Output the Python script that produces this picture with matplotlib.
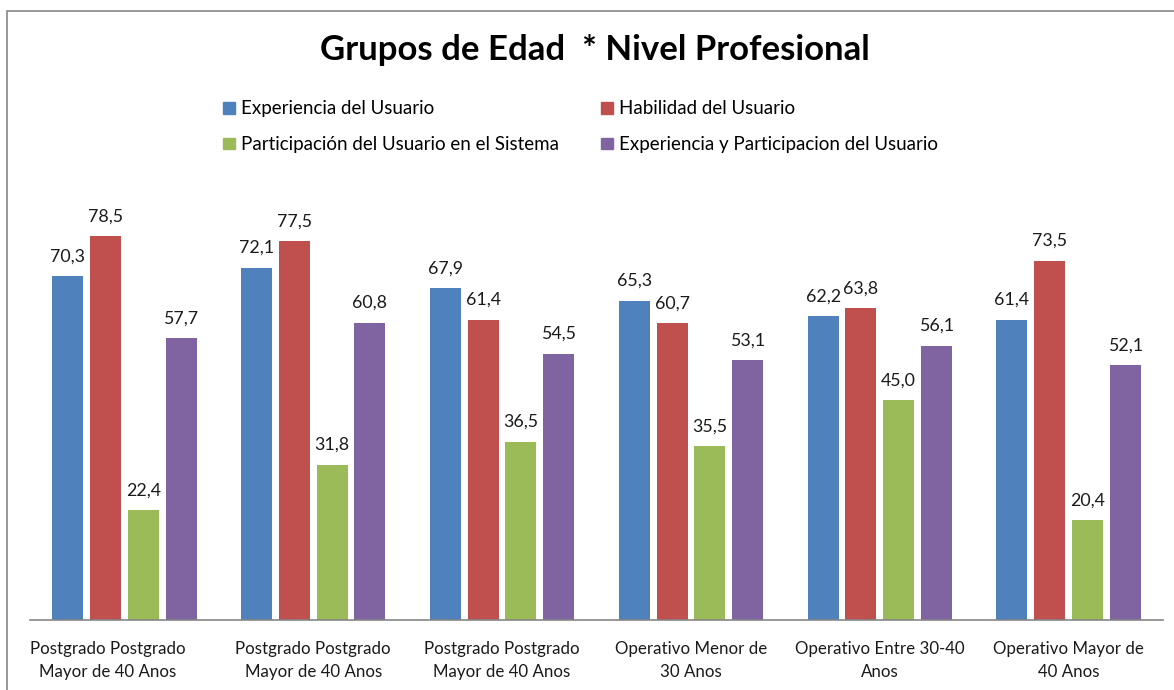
import matplotlib.pyplot as plt
from matplotlib.patches import Rectangle, Patch
from matplotlib.transforms import ScaledTranslation
import numpy as np

plt.rcParams['font.family'] = ['Lato', 'DejaVu Sans']

categories = ['Postgrado Postgrado\nMayor de 40 Anos',
              'Postgrado Postgrado\nMayor de 40 Anos',
              'Postgrado Postgrado\nMayor de 40 Anos',
              'Operativo Menor de\n30 Anos',
              'Operativo Entre 30-40\nAnos',
              'Operativo Mayor de\n40 Anos']
series_names = ['Experiencia del Usuario',
                'Habilidad del Usuario',
                'Participación del Usuario en el Sistema',
                'Experiencia y Participacion del Usuario']
experiencia = [70.3, 72.1, 67.9, 65.3, 62.2, 61.4]
habilidad = [78.5, 77.5, 61.4, 60.7, 63.8, 73.5]
participacion = [22.4, 31.8, 36.5, 35.5, 45.0, 20.4]
exp_part = [57.7, 60.8, 54.5, 53.1, 56.1, 52.1]
colors = ['#4F81BD', '#C0504D', '#9BBB59', '#8064A2']

fig = plt.figure(figsize=(11.74, 6.9), dpi=100)
ax = fig.add_axes([30 / 1174, 70 / 690, (1163 - 30) / 1174, 440 / 690])

x = np.arange(len(categories))
width = 0.164
step = 0.2
all_series = [experiencia, habilidad, participacion, exp_part]
for i, vals in enumerate(all_series):
    pos = x + (i - 1.5) * step
    bars = ax.bar(pos, vals, width, color=colors[i], label=series_names[i])
    for b, v in zip(bars, vals):
        ax.text(b.get_x() + b.get_width() / 2, v + 2.4, f'{v:.1f}'.replace('.', ','),
                ha='center', va='bottom', fontsize=12.8, color='#1a1a1a')

ax.set_xlim(-0.5, 5.5)
ax.set_ylim(0, 90)
ax.set_yticks([])
ax.set_xticks(x)
ax.set_xticklabels(categories, fontsize=12.2, color='#1a1a1a', linespacing=1.55)
ax.tick_params(axis='x', length=0, pad=15)
# the first label sits a little to the left in the original
first = ax.get_xticklabels()[0]
first.set_transform(first.get_transform() + ScaledTranslation(-0.17, 0, fig.dpi_scale_trans))
for s in ['top', 'right', 'left']:
    ax.spines[s].set_visible(False)
ax.spines['bottom'].set_color('#868686')
ax.spines['bottom'].set_linewidth(1.2)

fig.text(595 / 1174, 1 - 50 / 690, 'Grupos de Edad  * Nivel Profesional', ha='center', va='center',
         fontsize=25, fontweight='bold', color='black')

handles = [Patch(color=c) for c in colors]
order = [0, 2, 1, 3]
fig.legend([handles[k] for k in order], [series_names[k] for k in order], ncol=2,
           loc='upper left', bbox_to_anchor=(214 / 1174, 1 - 91 / 690), frameon=False,
           fontsize=13.5, handlelength=0.6, handleheight=0.6, handletextpad=0.35,
           columnspacing=2.25, labelspacing=1.0, borderpad=0)

fig.patches.append(Rectangle((7 / 1174, -0.1), 1.2, 1 - 11 / 690 + 0.1,
                             transform=fig.transFigure, fill=False,
                             edgecolor='#868686', linewidth=1.2))

fig.savefig('out.png', dpi=100)
